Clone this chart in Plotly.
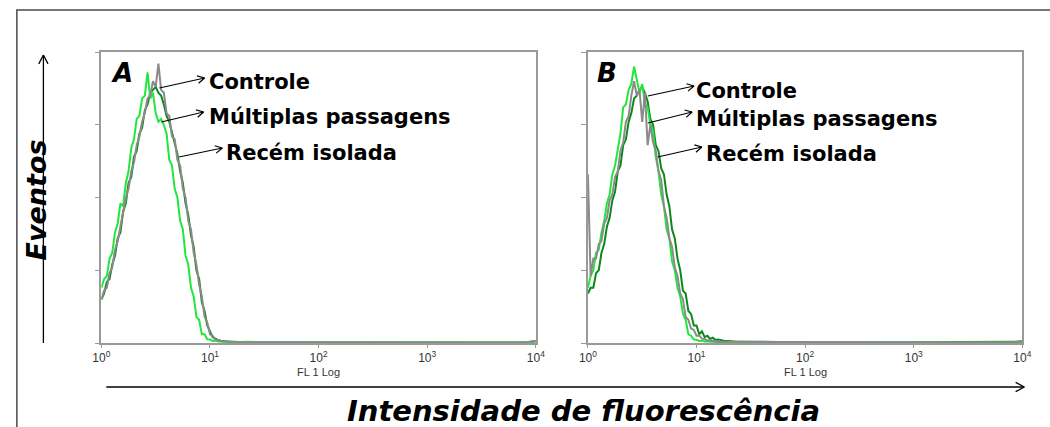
import math
import plotly.graph_objects as go

# ---------------- data ----------------
# FL1 channel positions (log10 of fluorescence intensity)
channel_log = [0.000, 0.025, 0.050, 0.075, 0.100, 0.125, 0.150, 0.175, 0.200, 0.225,
               0.250, 0.275, 0.300, 0.325, 0.350, 0.375, 0.400, 0.425, 0.450, 0.475,
               0.500, 0.525, 0.550, 0.575, 0.600, 0.625, 0.650, 0.675, 0.700, 0.725,
               0.750, 0.775, 0.800, 0.825, 0.850, 0.875, 0.900, 0.925, 0.950, 0.975,
               1.000, 1.025, 1.050, 1.075, 1.100, 1.125, 1.150, 1.175, 1.200,
               1.25, 1.35, 1.5, 1.7, 1.9, 2.1, 2.4, 2.7, 3.0, 3.3, 3.6, 3.9, 4.0]

# Panel A (% of max events)
a_controle = [15, 18, 19, 24, 26, 32, 35, 40, 44, 50, 53, 59, 62, 68, 71, 76, 79, 84, 85, 90,
              88, 96, 87, 86, 79, 78, 71, 70, 63, 61, 53, 50, 42, 39, 31, 27, 20, 16, 9, 7,
              3, 2.4, 1.1, 1.0, 0.6, 0.6, 0.4, 0.5, 0.3,
              0.3, 0.3, 0.2, 0.3, 0.2, 0.2, 0.3, 0.2, 0.2, 0.2, 0.2, 0.2, 0.8]
a_multiplas = [19, 22, 23, 29, 31, 38, 41, 48, 47, 55, 59, 67, 70, 77, 78, 84, 85, 93, 84, 86,
               79, 76, 77, 75, 72, 63, 61, 53, 50, 42, 39, 30, 27, 19, 16, 9, 8, 3, 3, 1.3,
               1.2, 0.7, 0.8, 0.5, 0.6, 0.4, 0.5, 0.3, 0.4,
               0.3, 0.4, 0.3, 0.2, 0.3, 0.3, 0.2, 0.3, 0.2, 0.3, 0.2, 0.2, 0.6]
a_recem = [15, 17, 21, 22, 27, 30, 36, 38, 45, 48, 55, 57, 64, 66, 72, 74, 80, 82, 86, 87,
           88, 86, 85, 82, 78, 76, 72, 68, 65, 59, 55, 48, 44, 37, 33, 25, 22, 14, 11, 6,
           4, 2, 1.5, 1, 0.8, 0.6, 0.5, 0.4, 0.4,
           0.3, 0.3, 0.3, 0.2, 0.2, 0.2, 0.2, 0.2, 0.2, 0.2, 0.2, 0.2, 0.5]

# Panel B (% of max events)
b_controle = [58, 23, 29, 29, 34, 35, 41, 43, 49, 51, 57, 59, 66, 69, 76, 78, 85, 90, 85, 87,
              76, 86, 68, 75, 69, 66, 59, 56, 47, 43, 36, 33, 26, 23, 17, 15, 9, 8, 5, 4.5,
              2.5, 2.6, 1.5, 1.4, 0.8, 1.0, 0.6, 0.7, 0.4,
              0.4, 0.3, 0.3, 0.2, 0.3, 0.2, 0.2, 0.2, 0.2, 0.2, 0.2, 0.2, 0.7]
b_multiplas = [19, 23, 25, 31, 32, 38, 42, 48, 51, 58, 61, 67, 72, 81, 82, 87, 89, 95, 90, 86,
               89, 82, 81, 75, 73, 64, 59, 51, 47, 39, 36, 28, 25, 19, 16, 10, 8, 3, 2.5, 1.2,
               1.1, 0.7, 0.8, 0.5, 0.6, 0.4, 0.5, 0.3, 0.4,
               0.3, 0.4, 0.3, 0.3, 0.2, 0.3, 0.3, 0.2, 0.3, 0.2, 0.2, 0.2, 0.5]
b_recem = [17, 19, 19, 24, 25, 31, 34, 40, 43, 49, 52, 59, 61, 68, 70, 76, 79, 84, 85, 87,
           88, 86, 83, 77, 75, 68, 66, 60, 58, 51, 47, 39, 36, 29, 25, 18, 17, 11, 10, 6,
           6, 3, 4, 2, 2.5, 1.4, 1.8, 1.0, 1.2,
           0.8, 0.5, 0.4, 0.3, 0.3, 0.2, 0.2, 0.2, 0.2, 0.2, 0.2, 0.2, 0.4]

tick_vals = [1, 10, 100, 1000, 10000]
tick_text = ["10<sup>0</sup>", "10<sup>1</sup>", "10<sup>2</sup>", "10<sup>3</sup>", "10<sup>4</sup>"]
series_names = ["Controle", "Múltiplas passagens", "Recém isolada"]
panel_letters = ["A", "B"]

# ---------------- figure ----------------
W, H = 1050, 427
def px(x):
    return x / W
def py(y):
    return 1 - y / H

COL_BRIGHT = "#22e63c"
COL_DARK = "#0b8a1c"
COL_GRAY = "#8a8a8a"

fl1 = [10 ** v for v in channel_log]

fig = go.Figure()
panels = [
    ("x", "y", a_controle, a_multiplas, a_recem),
    ("x2", "y2", b_controle, b_multiplas, b_recem),
]
for xa, ya, ctrl, mult, rec in panels:
    for vals, col, name in [(rec, COL_DARK, series_names[2]),
                            (mult, COL_BRIGHT, series_names[1]),
                            (ctrl, COL_GRAY, series_names[0])]:
        fig.add_trace(go.Scatter(x=fl1, y=vals, mode="lines", xaxis=xa, yaxis=ya,
                                 line=dict(color=col, width=2), name=name,
                                 showlegend=False, hoverinfo="skip"))

ydom = [py(343), py(52)]
xdomA = [px(94), px(536)]
xdomB = [px(589), px(1031)]

axis_common = dict(showline=True, linecolor="#9a9a9a", linewidth=1.5, mirror=True,
                   showgrid=False, zeroline=False)
xcommon = dict(type="log", range=[0, 4], tickvals=tick_vals, ticktext=tick_text,
               ticks="outside", ticklen=3, tickcolor="#9a9a9a",
               tickfont=dict(family="Liberation Sans", size=12, color="#333333"),
               **axis_common)
ycommon = dict(range=[0, 100], tickvals=[0, 25, 50, 75, 100], showticklabels=False,
               ticks="outside", ticklen=5, tickcolor="#9a9a9a", **axis_common)

fig.update_layout(
    width=W, height=H, margin=dict(l=0, r=0, t=0, b=0),
    paper_bgcolor="white", plot_bgcolor="white",
    xaxis=dict(domain=xdomA, anchor="y", **xcommon),
    yaxis=dict(domain=ydom, anchor="x", **ycommon),
    xaxis2=dict(domain=xdomB, anchor="y2", **xcommon),
    yaxis2=dict(domain=ydom, anchor="x2", **ycommon),
)

shapes = []
# outer frame
shapes.append(dict(type="rect", xref="paper", yref="paper", x0=px(8), y0=-0.02, x1=1.02, y1=py(10),
                   line=dict(color="#4a4a4a", width=1.5)))

def arrow(x0, y0, x1, y1, head=8, width=1.2, color="black", ang=28):
    shapes.append(dict(type="line", xref="paper", yref="paper",
                       x0=px(x0), y0=py(y0), x1=px(x1), y1=py(y1),
                       line=dict(color=color, width=width)))
    th = math.atan2(y1 - y0, x1 - x0)
    for s in (1, -1):
        a = th + math.pi - s * math.radians(ang)
        hx, hy = x1 + head * math.cos(a), y1 + head * math.sin(a)
        shapes.append(dict(type="line", xref="paper", yref="paper",
                           x0=px(x1), y0=py(y1), x1=px(hx), y1=py(hy),
                           line=dict(color=color, width=width)))

# axis arrows
arrow(35, 343, 35, 55, head=10, width=1.3)
arrow(99, 387, 1033, 387, head=10, width=1.3)

# label arrows panel A
arrow(153, 88, 199, 78)
arrow(155, 122, 198, 112)
arrow(173, 157, 217, 148)
# label arrows panel B
arrow(650, 96, 697, 86)
arrow(650, 123, 695, 112)
arrow(660, 157, 705, 147)

fig.update_layout(shapes=shapes)

annotations = []
def text(x, y, s, size, xanchor="left", bold=True, italic=False, angle=0,
         family="DejaVu Sans", color="black"):
    annotations.append(dict(xref="paper", yref="paper", x=px(x), y=py(y), text=s,
                            showarrow=False, xanchor=xanchor, yanchor="middle",
                            textangle=angle,
                            font=dict(family=family, size=size, color=color,
                                      weight="bold" if bold else "normal",
                                      style="italic" if italic else "normal")))

# series labels
text(201, 82, series_names[0], 21)
text(201, 117, series_names[1], 21)
text(219, 153, series_names[2], 21)
text(697, 91, series_names[0], 21)
text(697, 119, series_names[1], 21)
text(707, 154, series_names[2], 21)

# panel letters
text(102, 73, panel_letters[0], 26, italic=True)
text(596, 73, panel_letters[1], 26, italic=True)

# FL 1 Log
text(315, 372, "FL 1 Log", 11, xanchor="center", bold=False, family="Liberation Sans", color="#333333")
text(810, 372, "FL 1 Log", 11, xanchor="center", bold=False, family="Liberation Sans", color="#333333")

# axis titles
text(585, 411, "Intensidade de fluorescência", 29, xanchor="center", italic=True)
text(27, 200, "Eventos", 27, xanchor="center", italic=True, angle=-90)

fig.update_layout(annotations=annotations)

fig.write_html("out.html")
